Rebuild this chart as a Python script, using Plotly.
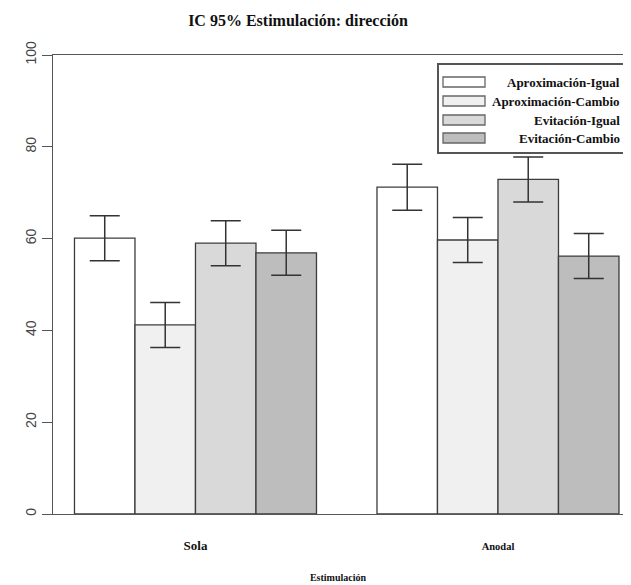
import plotly.graph_objects as go

groups = ["Sola", "Anodal"]
series = ["Aproximación-Igual", "Aproximación-Cambio", "Evitación-Igual", "Evitación-Cambio"]
aprox_igual = [60.1, 71.2]
aprox_cambio = [41.2, 59.7]
evit_igual = [59.0, 72.9]
evit_cambio = [56.9, 56.2]
err_aprox_igual = [4.9, 5.0]
err_aprox_cambio = [4.9, 4.9]
err_evit_igual = [4.9, 4.9]
err_evit_cambio = [4.9, 4.9]
yticks = [0, 20, 40, 60, 80, 100]

values = [aprox_igual, aprox_cambio, evit_igual, evit_cambio]
errors = [err_aprox_igual, err_aprox_cambio, err_evit_igual, err_evit_cambio]
fills = ["#FFFFFF", "#F0F0F0", "#D9D9D9", "#BDBDBD"]

# the page places the figure 8px from the top-left corner and shows it up to x=623
OFF = 8
W, H = 631 - 2 * OFF, 585 - OFF
ML, MR, MT = 53 - OFF, 0, 55 - OFF
MB = H + OFF - 514
PW, PH = W - ML - MR, H - MT - MB
XMIN = -0.471
XMAX = XMIN + PW / 302.5  # keep 302.5 px per category, as in the reference

fig = go.Figure()
for name, v, e, c in zip(series, values, errors, fills):
    fig.add_trace(go.Bar(
        x=groups, y=v, name=name,
        marker=dict(color=c, line=dict(color="#3c3c3c", width=1.3)),
        error_y=dict(type="data", array=e, visible=True, color="#333333", thickness=1.5, width=15),
        showlegend=False,
    ))

def px_x(px):
    return (px - OFF - ML) / PW

def px_y(py):
    return (H - MB - (py - OFF)) / PH

serif = "Liberation Serif, Times New Roman, serif"
shapes = [dict(type="rect", xref="paper", yref="paper",
               x0=px_x(438), x1=px_x(660), y0=px_y(153), y1=px_y(64),
               line=dict(color="#555555", width=2), fillcolor="#FFFFFF", layer="above")]
annotations = []
rows = [82, 101, 120, 138]
for name, c, ry in zip(series, fills, rows):
    shapes.append(dict(type="rect", xref="paper", yref="paper",
                       x0=px_x(443), x1=px_x(485), y0=px_y(ry + 5), y1=px_y(ry - 5),
                       line=dict(color="#666666", width=1.3), fillcolor=c, layer="above"))
    annotations.append(dict(text="<b>%s</b>" % name, xref="paper", yref="paper",
                            x=px_x(622), y=px_y(ry), xanchor="right", yanchor="middle",
                            showarrow=False, font=dict(family=serif, size=13, color="#111111")))

ticktext = ["<b>Sola</b>", "<span style='font-size:10.5px'><b>Anodal</b></span>"]

fig.update_layout(
    width=W, height=H,
    margin=dict(l=ML, r=MR, t=MT, b=MB, pad=0),
    paper_bgcolor="#FFFFFF", plot_bgcolor="#FFFFFF",
    barmode="group", bargap=0.2, bargroupgap=0,
    title=dict(text="<b>IC 95% Estimulación: dirección</b>", x=(298 - OFF) / W,
               xanchor="center", y=1 - (20 - OFF) / H, yanchor="middle",
               font=dict(family=serif, size=16, color="#111111")),
    xaxis=dict(
        range=[XMIN, XMAX], tickvals=groups, ticktext=ticktext,
        showline=True, mirror=True, linecolor="#555555", linewidth=1.3,
        ticks="outside", ticklen=19, tickcolor="rgba(0,0,0,0)",
        tickfont=dict(family=serif, size=13, color="#111111"),
        title=dict(text="<b>Estimulación</b>", standoff=22,
                   font=dict(family=serif, size=10, color="#111111")),
        showgrid=False, zeroline=False,
    ),
    yaxis=dict(
        range=[0, 100], tickvals=yticks, tickangle=-90,
        showline=True, linecolor="#555555", linewidth=1.3,
        ticks="outside", ticklen=10, tickcolor="#555555", tickwidth=1.3,
        tickfont=dict(family="Liberation Sans, Arial, sans-serif", size=14, color="#444444"),
        showgrid=False, zeroline=False,
    ),
    shapes=shapes, annotations=annotations,
)

fig.write_html("out.html")
